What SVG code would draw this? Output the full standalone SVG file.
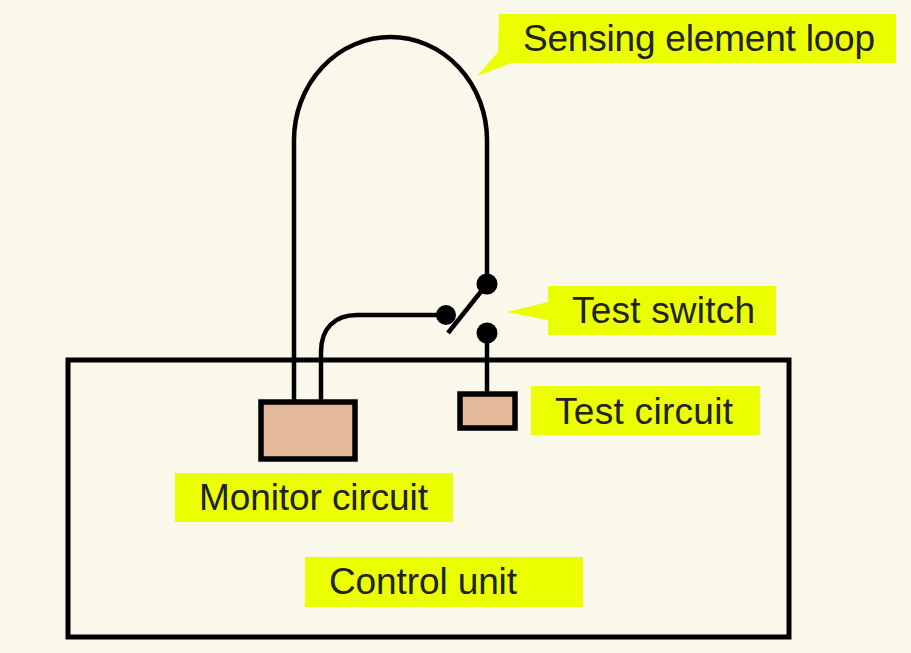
<svg xmlns="http://www.w3.org/2000/svg" width="911" height="653" viewBox="0 0 911 653">
<style>
.lbl{fill:#ebff00}
.t{font-family:"Liberation Sans",Arial,sans-serif;font-size:37px;fill:#222}
.box{fill:#e3b999;stroke:#000;stroke-width:5.5}
.w{fill:none;stroke:#000;stroke-width:4.5}
</style>
<rect width="911" height="653" fill="#faf8ea"/>
<g id="control-unit"><rect x="68" y="360" width="721" height="277" fill="none" stroke="#000" stroke-width="5"/>
<rect class="lbl" x="305" y="557" width="278" height="50"/><text class="t" x="329" y="594" textLength="188">Control unit</text></g>
<g id="connectors">
<path class="w" d="M294 402V140A96.500 103 0 0 1 487 140V284"/>
<path class="w" d="M321 402V352C321 328 335 315 357 315H446"/>
<path class="w" d="M448 333L487 284"/>
<path class="w" d="M487 333V394"/>
</g>
<g id="switch"><circle cx="487" cy="284" r="10.500"/><circle cx="446" cy="315" r="10"/><circle cx="487" cy="333" r="10.500"/></g>
<g id="monitor-circuit"><rect class="box" x="261" y="402" width="94" height="57"/>
<rect class="lbl" x="175" y="473" width="278" height="49"/><text class="t" x="199" y="510" textLength="229">Monitor circuit</text></g>
<g id="test-circuit"><rect class="box" x="460" y="394" width="55" height="34"/>
<rect class="lbl" x="531" y="386" width="229" height="49"/><text class="t" x="555" y="424" textLength="178">Test circuit</text></g>
<g id="test-switch"><polygon class="lbl" points="548,286 776,286 776,335 548,335 548,320 507,312 548,302"/><text class="t" x="572" y="323" textLength="183">Test switch</text></g>
<g id="sensing-loop"><polygon class="lbl" points="499,14 896,14 896,63 512,63 477,76 498,52"/><text class="t" x="523" y="51" textLength="352">Sensing element loop</text></g>
</svg>
